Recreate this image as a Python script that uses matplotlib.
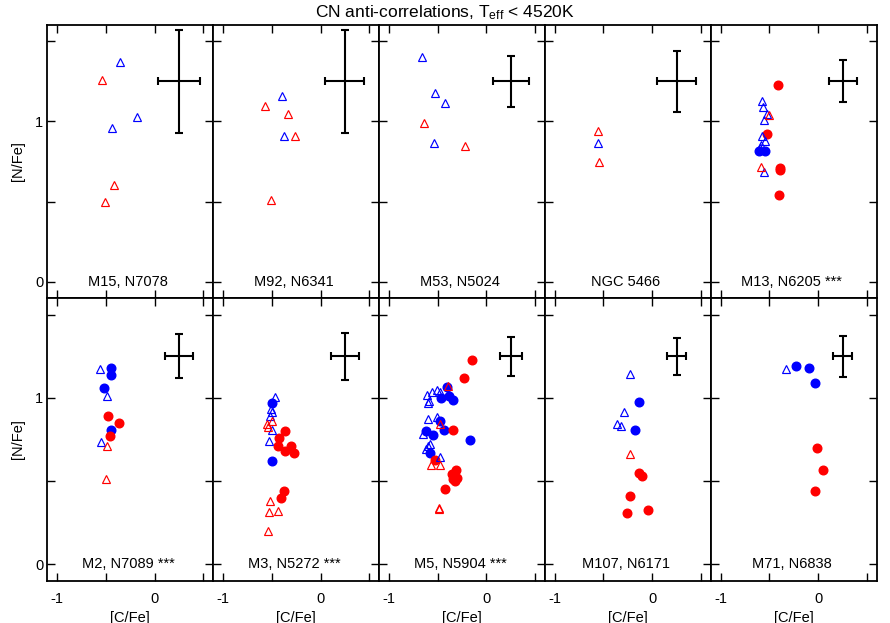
import matplotlib
matplotlib.use("Agg")
import matplotlib.pyplot as plt
import numpy as np

plt.rcParams['font.family'] = ['Liberation Sans', 'DejaVu Sans']
plt.rcParams['mathtext.default'] = 'regular'

# ---------------- data ----------------
panel_names = ["M15, N7078", "M92, N6341", "M53, N5024", "NGC 5466", "M13, N6205 ***",
               "M2, N7089 ***", "M3, N5272 ***", "M5, N5904 ***", "M107, N6171", "M71, N6838"]

# error bar half-sizes per panel (x, y), centred at (0.25, 1.25)
err_x = [0.22, 0.20, 0.185, 0.20, 0.143, 0.144, 0.14, 0.114, 0.097, 0.094]
err_y = [0.32, 0.32, 0.16, 0.19, 0.13, 0.133, 0.142, 0.118, 0.111, 0.122]
err_center = (0.25, 1.25)

# M15
m15_red_tri = [(-0.54, 1.26), (-0.42, 0.606), (-0.51, 0.496)]
m15_blue_tri = [(-0.36, 1.37), (-0.18, 1.03), (-0.44, 0.956)]
m15_red_dot = []
m15_blue_dot = []
# M92
m92_red_tri = [(-0.57, 1.096), (-0.33, 1.044), (-0.26, 0.906), (-0.51, 0.51)]
m92_blue_tri = [(-0.39, 1.156), (-0.37, 0.906)]
m92_red_dot = []
m92_blue_dot = []
# M53
m53_red_tri = [(-0.64, 0.988), (-0.22, 0.846)]
m53_blue_tri = [(-0.655, 1.40), (-0.53, 1.177), (-0.42, 1.117), (-0.54, 0.864)]
m53_red_dot = []
m53_blue_dot = []
# NGC 5466
n5466_red_tri = [(-0.56, 0.9375), (-0.55, 0.744)]
n5466_blue_tri = [(-0.56, 0.864)]
n5466_red_dot = []
n5466_blue_dot = []
# M13
m13_red_tri = [(-0.505, 1.04), (-0.59, 0.714)]
m13_blue_tri = [(-0.58, 1.125), (-0.57, 1.09), (-0.52, 1.044), (-0.55, 1.006),
                (-0.58, 0.908), (-0.54, 0.877), (-0.59, 0.85), (-0.60, 0.833),
                (-0.55, 0.683)]
m13_red_dot = [(-0.41, 1.225), (-0.52, 0.923), (-0.39, 0.71), (-0.395, 0.70), (-0.40, 0.54)]
m13_blue_dot = [(-0.61, 0.8125), (-0.54, 0.8125)]
# M2
m2_red_tri = [(-0.49, 0.713), (-0.496, 0.514)]
m2_blue_tri = [(-0.557, 1.172), (-0.486, 1.014), (-0.554, 0.737)]
m2_red_dot = [(-0.48, 0.889), (-0.37, 0.849), (-0.456, 0.769)]
m2_blue_dot = [(-0.45, 1.18), (-0.45, 1.139), (-0.52, 1.06), (-0.446, 0.809)]
# M3
m3_red_tri = [(-0.50, 0.863), (-0.55, 0.845), (-0.537, 0.827), (-0.517, 0.383),
              (-0.438, 0.323), (-0.524, 0.313), (-0.537, 0.203)]
m3_blue_tri = [(-0.469, 1.004), (-0.507, 0.934), (-0.50, 0.913), (-0.517, 0.893),
               (-0.50, 0.805), (-0.53, 0.743)]
m3_red_dot = [(-0.366, 0.80), (-0.424, 0.759), (-0.44, 0.711), (-0.298, 0.708),
              (-0.363, 0.68), (-0.273, 0.67), (-0.373, 0.44), (-0.41, 0.40)]
m3_blue_dot = [(-0.496, 0.97), (-0.50, 0.62)]
# M5
m5_red_tri = [(-0.39, 1.074), (-0.48, 0.843), (-0.568, 0.594), (-0.476, 0.594),
              (-0.486, 0.341), (-0.486, 0.333)]
m5_blue_tri = [(-0.504, 1.046), (-0.473, 1.036), (-0.555, 1.034), (-0.606, 1.016),
               (-0.589, 0.984), (-0.596, 0.972), (-0.603, 0.875), (-0.507, 0.887),
               (-0.647, 0.783), (-0.583, 0.723), (-0.596, 0.709), (-0.617, 0.693),
               (-0.476, 0.642)]
m5_red_dot = [(-0.147, 1.229), (-0.226, 1.12), (-0.339, 0.809), (-0.527, 0.628),
              (-0.308, 0.568), (-0.357, 0.542), (-0.305, 0.518), (-0.342, 0.514),
              (-0.322, 0.502), (-0.424, 0.45)]
m5_blue_dot = [(-0.404, 1.068), (-0.383, 1.012), (-0.47, 1.002), (-0.339, 0.99),
               (-0.473, 0.861), (-0.435, 0.809), (-0.617, 0.801), (-0.548, 0.779),
               (-0.168, 0.749), (-0.576, 0.669)]
# M107
m107_red_tri = [(-0.224, 0.664)]
m107_blue_tri = [(-0.232, 1.142), (-0.29, 0.913), (-0.361, 0.843), (-0.32, 0.833)]
m107_red_dot = [(-0.133, 0.55), (-0.102, 0.53), (-0.232, 0.411), (-0.045, 0.329), (-0.26, 0.309)]
m107_blue_dot = [(-0.133, 0.978), (-0.18, 0.809)]
# M71
m71_red_tri = []
m71_blue_tri = [(-0.328, 1.175)]
m71_red_dot = [(-0.01, 0.699), (0.05, 0.568), (-0.028, 0.44)]
m71_blue_dot = [(-0.225, 1.189), (-0.089, 1.178), (-0.028, 1.088)]

panel_data = [
    (m15_red_tri, m15_blue_tri, m15_red_dot, m15_blue_dot),
    (m92_red_tri, m92_blue_tri, m92_red_dot, m92_blue_dot),
    (m53_red_tri, m53_blue_tri, m53_red_dot, m53_blue_dot),
    (n5466_red_tri, n5466_blue_tri, n5466_red_dot, n5466_blue_dot),
    (m13_red_tri, m13_blue_tri, m13_red_dot, m13_blue_dot),
    (m2_red_tri, m2_blue_tri, m2_red_dot, m2_blue_dot),
    (m3_red_tri, m3_blue_tri, m3_red_dot, m3_blue_dot),
    (m5_red_tri, m5_blue_tri, m5_red_dot, m5_blue_dot),
    (m107_red_tri, m107_blue_tri, m107_red_dot, m107_blue_dot),
    (m71_red_tri, m71_blue_tri, m71_red_dot, m71_blue_dot),
]

xticks = [-1, -0.5, 0, 0.5]
xticklabels = ["-1", "", "0", ""]
yticks = [0, 0.5, 1, 1.5]
yticklabels = ["0", "", "1", ""]

RED = "#ff0000"
BLUE = "#0000ff"

# ---------------- figure ----------------
fig = plt.figure(figsize=(8.9, 6.23), dpi=100)
W, H = 890.0, 623.0
left, right = 47.3 / W, 876.7 / W
top, mid, bottom = 1 - 25 / H, 1 - 298 / H, 1 - 581 / H
gs = fig.add_gridspec(2, 5, left=left, right=right, top=top, bottom=bottom,
                      wspace=0, hspace=0, height_ratios=[273, 283])

def xy(pts):
    if not pts:
        return [], []
    a = np.array(pts)
    return a[:, 0], a[:, 1]

for i in range(10):
    r, c = divmod(i, 5)
    ax = fig.add_subplot(gs[r, c])
    rt, bt, rd, bd = panel_data[i]
    x, y = xy(bd)
    ax.plot(x, y, 'o', color=BLUE, ms=6.2, mec=BLUE, zorder=3)
    x, y = xy(rd)
    ax.plot(x, y, 'o', color=RED, ms=6.2, mec=RED, zorder=3)
    x, y = xy(bt)
    ax.plot(x, y, '^', mfc='none', mec=BLUE, ms=5.3, mew=0.85, zorder=4)
    x, y = xy(rt)
    ax.plot(x, y, '^', mfc='none', mec=RED, ms=5.3, mew=0.85, zorder=4)
    ax.errorbar([err_center[0]], [err_center[1]], xerr=[err_x[i]], yerr=[err_y[i]],
                fmt='none', ecolor='black', elinewidth=1.5, capsize=3, capthick=1.5, zorder=5)
    ax.text(-0.27, 0.0, panel_names[i], ha='center', va='center', fontsize=10.5)
    ax.set_xlim(-1.1, 0.6)
    ax.set_ylim(-0.1, 1.6)
    ax.set_xticks(xticks)
    ax.set_yticks(yticks)
    ax.tick_params(direction='in', length=5.5, width=1.0, top=True, right=True,
                   labelsize=10.5, pad=3)
    for s in ax.spines.values():
        s.set_linewidth(1.3)
    if r == 1:
        ax.set_xticklabels(xticklabels)
        ax.tick_params(axis='x', pad=8)
        ax.set_xlabel("[C/Fe]", fontsize=10.5)
        ax.xaxis.set_label_coords(0.5, -0.105)
        ax.xaxis.label.set_va('top')
    else:
        ax.set_xticklabels([])
    if c == 0:
        ax.set_yticklabels(yticklabels)
        ax.set_ylabel("[N/Fe]", fontsize=10.5)
        ax.yaxis.set_label_coords(-0.135, 0.5)
    else:
        ax.set_yticklabels([])

fig.text(0.4995, 1 - 12.5 / H, "CN anti-correlations, T$_{eff}$ < 4520K",
         ha='center', va='center', fontsize=12.5)

fig.savefig("out.png", dpi=100)
